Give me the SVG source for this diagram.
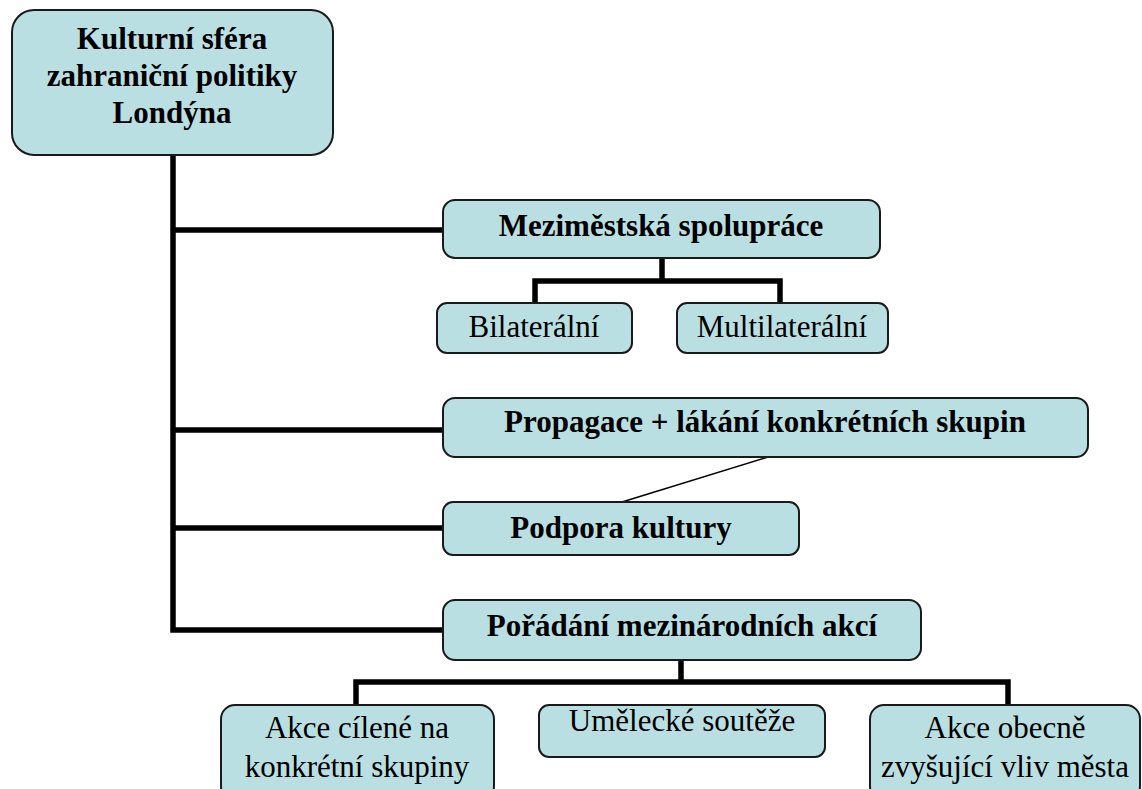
<svg xmlns="http://www.w3.org/2000/svg" width="1142" height="789" viewBox="0 0 1142 789">
<style>
.box{fill:#badfe2;stroke:#1a1a1a;stroke-width:2}
.b{font-weight:bold;font-size:31px;fill:#000;text-anchor:middle}
.n{font-size:31px;fill:#000;text-anchor:middle}
.thick{fill:none;stroke:#000;stroke-width:5.5}
.thin{fill:none;stroke:#000;stroke-width:1.5}
</style>
<rect width="1142" height="789" fill="#fff"/>
<g id="connectors">
<path class="thick" d="M173,155 V630 H443 M173,230 H443 M173,430 H443 M173,528 H443"/>
<path class="thick" d="M662,258 V281 M535,305 V281 H780 V305"/>
<path class="thick" d="M681,660 V682 M356,705 V682 H1008 V705"/>
<path class="thin" d="M768,457 L622,502"/>
</g>
<g font-family="Liberation Serif, serif">
<g id="root">
<rect class="box" x="12" y="10" width="321" height="145" rx="22"/>
<text class="b" x="172" y="49">Kulturní sféra</text>
<text class="b" x="172" y="86">zahraniční politiky</text>
<text class="b" x="172" y="123">Londýna</text>
</g>
<g id="mezimestska">
<rect class="box" x="443" y="200" width="437" height="58" rx="12"/>
<text class="b" x="661" y="236">Meziměstská spolupráce</text>
</g>
<g id="bilateralni">
<rect class="box" x="437" y="303" width="195" height="50" rx="10"/>
<text class="n" x="534" y="337">Bilaterální</text>
</g>
<g id="multilateralni">
<rect class="box" x="677" y="303" width="211" height="50" rx="10"/>
<text class="n" x="782" y="337">Multilaterální</text>
</g>
<g id="propagace">
<rect class="box" x="443" y="398" width="645" height="59" rx="12"/>
<text class="b" x="765" y="432">Propagace + lákání konkrétních skupin</text>
</g>
<g id="podpora">
<rect class="box" x="443" y="502" width="356" height="53" rx="10"/>
<text class="b" x="621" y="538">Podpora kultury</text>
</g>
<g id="poradani">
<rect class="box" x="443" y="600" width="478" height="60" rx="12"/>
<text class="b" x="682" y="636">Pořádání mezinárodních akcí</text>
</g>
<g id="akce-cilene">
<rect class="box" x="221" y="705" width="273" height="95" rx="14"/>
<text class="n" x="357" y="738">Akce cílené na</text>
<text class="n" x="357" y="777">konkrétní skupiny</text>
</g>
<g id="umelecke">
<rect class="box" x="539" y="705" width="286" height="52" rx="10"/>
<text class="n" x="682" y="731">Umělecké soutěže</text>
</g>
<g id="akce-obecne">
<rect class="box" x="870" y="705" width="270" height="95" rx="14"/>
<text class="n" x="1005" y="738">Akce obecně</text>
<text class="n" x="1005" y="777">zvyšující vliv města</text>
</g>
</g>
</svg>
